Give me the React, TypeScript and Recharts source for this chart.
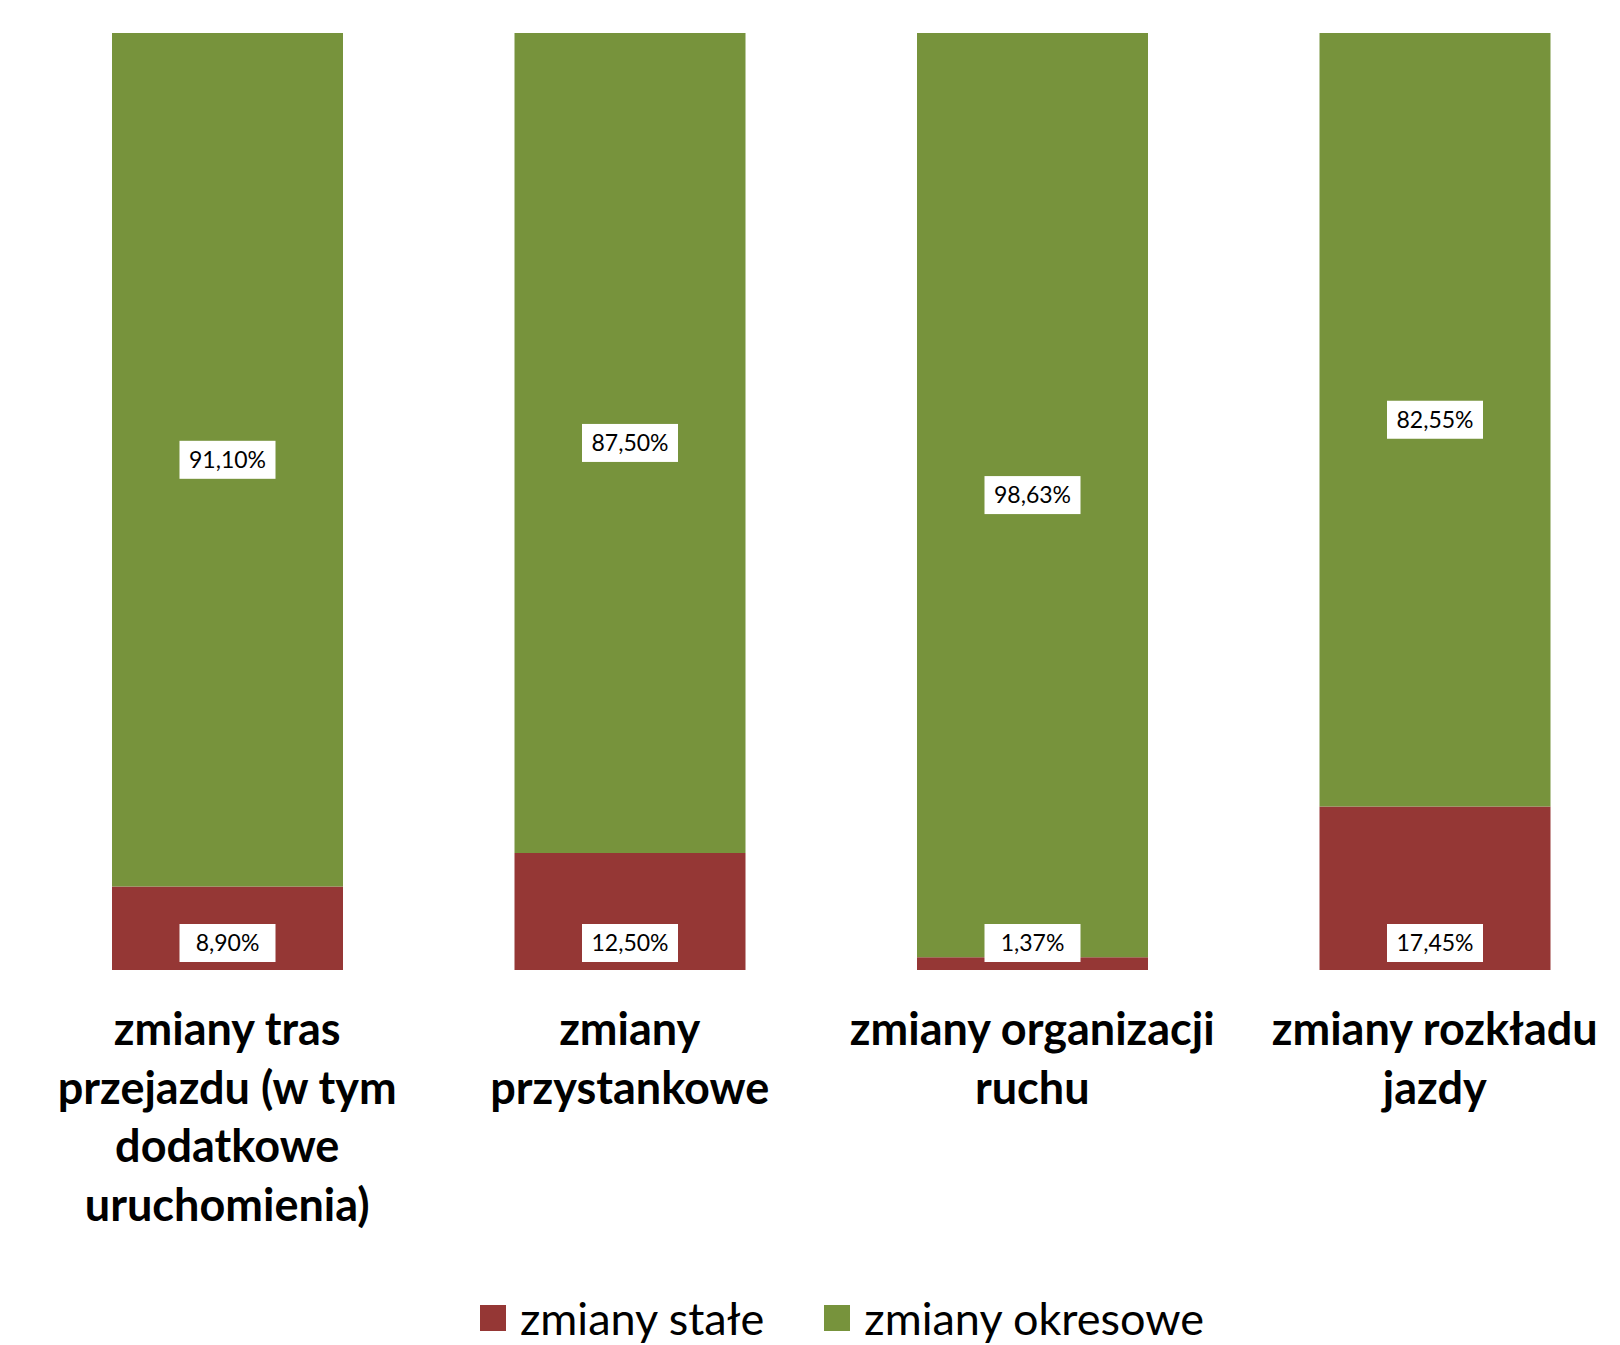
import { Bar, BarChart, LabelList, XAxis, YAxis } from 'recharts'

const CATEGORIES = [
  'zmiany tras przejazdu (w tym dodatkowe uruchomienia)',
  'zmiany przystankowe',
  'zmiany organizacji ruchu',
  'zmiany rozkładu jazdy',
]
const STALE = [8.9, 12.5, 1.37, 17.45]
const OKRESOWE = [91.1, 87.5, 98.63, 82.55]

const SERIES = [
  { key: 'stale', name: 'zmiany stałe', color: '#953735' },
  { key: 'okresowe', name: 'zmiany okresowe', color: '#77933C' },
]

const DATA = CATEGORIES.map((c, i) => ({ category: c, stale: STALE[i], okresowe: OKRESOWE[i] }))

const FONT = 'Lato, "Open Sans", sans-serif'
const PLOT_BOTTOM = 970

// greedy word wrap, Excel breaks these at roughly 18 chars
function wrap(text: string, max = 18) {
  const lines: string[] = []
  let cur = ''
  for (const w of text.split(' ')) {
    const next = cur ? cur + ' ' + w : w
    if (next.length > max && cur) {
      lines.push(cur)
      cur = w
    } else cur = next
  }
  if (cur) lines.push(cur)
  return lines
}

const fmt = (v: number) => v.toFixed(2).replace('.', ',') + '%'

function CategoryTick(props: any) {
  const { x, payload } = props
  const lines = wrap(payload.value)
  return (
    <text textAnchor="middle" fontFamily={FONT} fontWeight={700} fontSize={45} fill="#000">
      {lines.map((l, i) => (
        <tspan key={i} x={x} y={PLOT_BOTTOM + 75 + i * 58.5}>
          {l}
        </tspan>
      ))}
    </text>
  )
}

function boxLabel(atBase: boolean) {
  return (props: any) => {
    const { x, y, width, height, value } = props
    const cx = x + width / 2
    const cy = atBase ? y + height - 27 : y + height / 2
    const w = 96
    const h = 38
    return (
      <g>
        <rect x={cx - w / 2} y={cy - h / 2} width={w} height={h} fill="#fff" />
        <text x={cx} y={cy + 8} textAnchor="middle" fontFamily={FONT} fontSize={23} fill="#000">
          {fmt(value)}
        </text>
      </g>
    )
  }
}

export default function App() {
  return (
    <div style={{ position: 'absolute', left: 0, top: 0, width: 1620, height: 1345, overflow: 'hidden', background: '#fff' }}>
      <BarChart
        width={1650}
        height={1345}
        data={DATA}
        margin={{ top: 33, right: 14, bottom: 0, left: 26 }}
      >
        <XAxis
          dataKey="category"
          axisLine={false}
          tickLine={false}
          tickSize={0}
          tickMargin={0}
          interval={0}
          height={1345 - PLOT_BOTTOM}
          tick={<CategoryTick />}
        />
        <YAxis hide domain={[0, 100]} />
        <Bar dataKey="stale" name="zmiany stałe" stackId="a" fill={SERIES[0].color} barSize={231} isAnimationActive={false}>
          <LabelList dataKey="stale" content={boxLabel(true)} />
        </Bar>
        <Bar dataKey="okresowe" name="zmiany okresowe" stackId="a" fill={SERIES[1].color} barSize={231} isAnimationActive={false}>
          <LabelList dataKey="okresowe" content={boxLabel(false)} />
        </Bar>
      </BarChart>
      <div
        style={{
          position: 'absolute',
          top: 1295,
          left: 480,
          display: 'flex',
          gap: 60,
          fontFamily: FONT,
          fontSize: 45,
          lineHeight: '46px',
          whiteSpace: 'nowrap',
        }}
      >
        {SERIES.map((s) => (
          <div key={s.key} style={{ display: 'flex', alignItems: 'center' }}>
            <span style={{ width: 26, height: 26, background: s.color, marginRight: 14, display: 'inline-block' }} />
            <span>{s.name}</span>
          </div>
        ))}
      </div>
    </div>
  )
}
